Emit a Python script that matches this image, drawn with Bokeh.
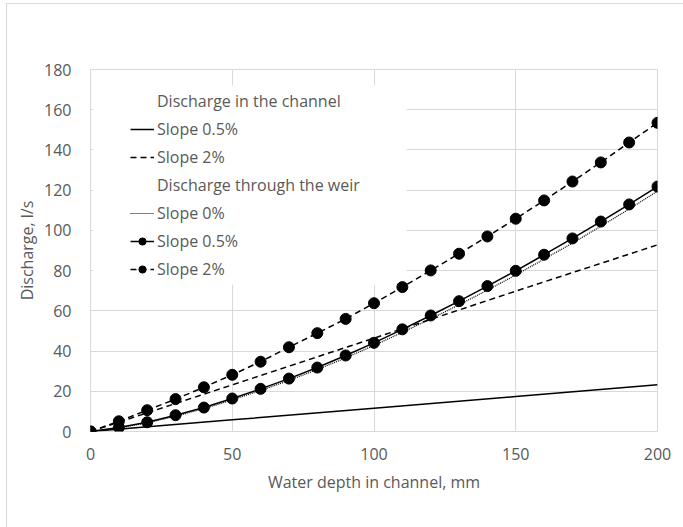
from bokeh.plotting import figure
from bokeh.models import Range1d, FixedTicker, Legend, LegendItem, BoxAnnotation
from bokeh.embed import file_html
from bokeh.resources import INLINE

# Water depth in the channel, mm
depth = [0, 10, 20, 30, 40, 50, 60, 70, 80, 90, 100,
         110, 120, 130, 140, 150, 160, 170, 180, 190, 200]

# Discharge in the channel, l/s
channel_depth = [0, 50, 100, 150, 200]
channel_05 = [0, 5.8, 11.6, 17.4, 23.2]
channel_2 = [0, 23.2, 46.4, 69.8, 92.8]

# Discharge through the weir, l/s
weir_0 = [0, 1.8, 4.3, 7.6, 11.3, 15.7, 20.4, 25.4, 30.8, 36.6, 42.8,
          49.3, 56.0, 63.0, 70.3, 77.8, 85.7, 93.7, 102.0, 110.6, 119.5]
weir_05 = [0, 2.0, 4.6, 8.1, 11.9, 16.4, 21.2, 26.3, 31.8, 37.8, 44.1,
           50.8, 57.7, 64.8, 72.3, 79.9, 87.9, 96.0, 104.4, 112.9, 121.8]
weir_2 = [0, 5.1, 10.6, 16.1, 22.0, 28.2, 34.7, 41.9, 48.9, 56.0, 63.8,
          71.8, 80.1, 88.4, 97.0, 105.8, 114.9, 124.3, 133.8, 143.7, 153.5]

x_ticks = [0, 50, 100, 150, 200]
y_ticks = [0, 20, 40, 60, 80, 100, 120, 140, 160, 180]

FONT = "Open Sans"
TEXT = "#595959"
GRID = "#d9d9d9"
SIZE = "16px"

# chart area with a thin light border on its top and left edges
p = figure(frame_width=567, frame_height=362,
           min_border_left=83, min_border_right=26,
           min_border_top=65, min_border_bottom=96,
           x_range=Range1d(0, 200), y_range=Range1d(0, 180),
           output_backend="svg", toolbar_location=None,
           margin=(3, 0, 0, 6),
           styles={"border-top": "1px solid #d9d9d9",
                   "border-left": "1px solid #d9d9d9"})

p.background_fill_color = "white"
p.border_fill_color = "white"
p.outline_line_color = GRID

for ax, ticks in ((p.xaxis[0], x_ticks), (p.yaxis[0], y_ticks)):
    ax.ticker = FixedTicker(ticks=ticks)
    ax.axis_line_color = None
    ax.major_tick_line_color = None
    ax.minor_tick_line_color = None
    ax.major_tick_out = 0
    ax.major_tick_in = 0
    ax.major_label_text_font = FONT
    ax.major_label_text_font_size = SIZE
    ax.major_label_text_color = TEXT
    ax.axis_label_text_font = FONT
    ax.axis_label_text_font_size = SIZE
    ax.axis_label_text_color = TEXT
    ax.axis_label_text_font_style = "normal"

p.xaxis.axis_label = "Water depth in channel, mm"
p.yaxis.axis_label = "Discharge, l/s"
p.xaxis.major_label_standoff = 16
p.yaxis.major_label_standoff = 19
p.xaxis.axis_label_standoff = 8
p.yaxis.axis_label_standoff = 3

p.xgrid.ticker = FixedTicker(ticks=x_ticks)
p.ygrid.ticker = FixedTicker(ticks=y_ticks)
p.grid.grid_line_color = GRID
p.grid.grid_line_width = 1

# white panel behind the legend, hiding the gridlines there
p.add_layout(BoxAnnotation(left=1, right=111.5, top=172, bottom=73,
                           fill_color="white", fill_alpha=1,
                           line_color=None, level="underlay"))

# channel discharge lines
r_c05 = p.line(channel_depth, channel_05, line_color="black", line_width=1.5)
r_c2 = p.line(channel_depth, channel_2, line_color="black", line_width=1.5,
              line_dash="6 4")

# weir discharge lines
r_w0 = p.line(depth, weir_0, line_color="black", line_width=1.2,
              line_dash="1 1")
r_w05 = p.line(depth, weir_05, line_color="black", line_width=1.5)
r_w05m = p.scatter(depth, weir_05, size=11, color="black")
r_w2 = p.line(depth, weir_2, line_color="black", line_width=1.5,
              line_dash="6 4")
r_w2m = p.scatter(depth, weir_2, size=11, color="black")

# invisible renderers for the group headings in the legend
h1 = p.line([0], [0], line_alpha=0)
h2 = p.line([0], [0], line_alpha=0)

legend = Legend(items=[
    LegendItem(label="Discharge in the channel", renderers=[h1]),
    LegendItem(label="Slope 0.5%", renderers=[r_c05]),
    LegendItem(label="Slope 2%", renderers=[r_c2]),
    LegendItem(label="Discharge through the weir", renderers=[h2]),
    LegendItem(label="Slope 0%", renderers=[r_w0]),
    LegendItem(label="Slope 0.5%", renderers=[r_w05, r_w05m]),
    LegendItem(label="Slope 2%", renderers=[r_w2, r_w2m]),
], location=(40, 151))
legend.border_line_color = None
legend.background_fill_alpha = 0
legend.padding = 5
legend.margin = 0
legend.spacing = 6
legend.glyph_width = 24
legend.glyph_height = 18
legend.label_height = 18
legend.label_standoff = 3
legend.label_text_font = FONT
legend.label_text_font_size = SIZE
legend.label_text_color = TEXT
p.add_layout(legend, "center")

open("out.html", "w").write(file_html(p, INLINE))
